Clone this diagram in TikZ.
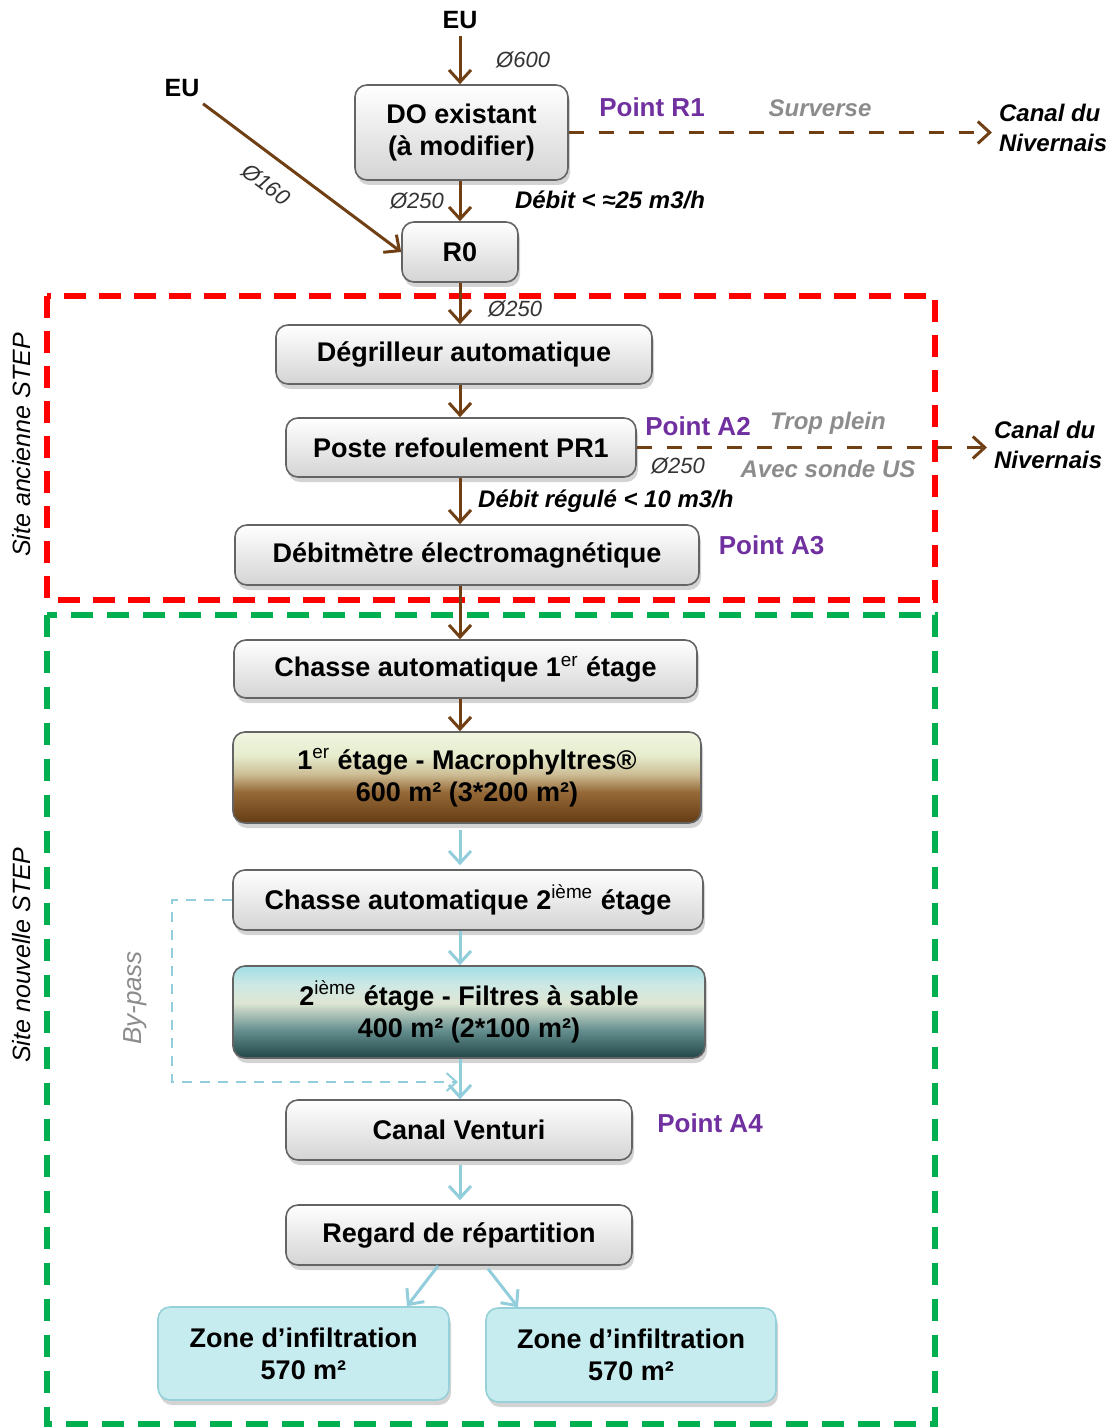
\documentclass[tikz,border=0pt]{standalone}
\usepackage{fontspec}
\setmainfont{Liberation Sans}
\usetikzlibrary{arrows.meta,positioning,shadows}
\definecolor{flowColor}{RGB}{112,63,20}
\definecolor{waterColor}{RGB}{146,205,220}
\definecolor{pointColor}{RGB}{112,48,160}
\definecolor{noteColor}{RGB}{140,140,140}
\definecolor{oldSiteColor}{RGB}{255,0,0}
\definecolor{newSiteColor}{RGB}{0,176,80}
\definecolor{boxBottom}{RGB}{212,212,212}
\definecolor{boxBorder}{RGB}{100,100,100}
\definecolor{zoneColor}{RGB}{198,236,239}
\definecolor{zoneBorder}{RGB}{150,208,216}
\definecolor{macroTop}{RGB}{240,246,225}
\definecolor{macroHigh}{RGB}{230,236,205}
\definecolor{macroMid}{RGB}{205,190,150}
\definecolor{macroLow}{RGB}{150,105,55}
\definecolor{macroBottom}{RGB}{100,60,20}
\definecolor{sandTop}{RGB}{160,222,230}
\definecolor{sandHigh}{RGB}{205,232,228}
\definecolor{sandMid}{RGB}{222,230,212}
\definecolor{sandLow}{RGB}{100,142,142}
\definecolor{sandBottom}{RGB}{35,70,72}
\pgfdeclareverticalshading{macroShade}{100bp}{color(0bp)=(macroBottom); color(25bp)=(macroBottom); color(42bp)=(macroLow); color(52bp)=(macroMid); color(62bp)=(macroHigh); color(75bp)=(macroTop); color(100bp)=(macroTop)}
\pgfdeclareverticalshading{sandShade}{100bp}{color(0bp)=(sandBottom); color(25bp)=(sandBottom); color(40bp)=(sandLow); color(55bp)=(sandMid); color(65bp)=(sandHigh); color(75bp)=(sandTop); color(100bp)=(sandTop)}
\tikzset{boxbase/.style={rounded corners=6pt, align=center, inner sep=2pt, line width=0.8pt, font=\fontsize{13.5}{16}\selectfont\bfseries, drop shadow={opacity=0.35, shadow xshift=1pt, shadow yshift=-2.5pt}}}
\tikzset{stage/.style={boxbase, draw=boxBorder, top color=white, bottom color=boxBottom}}
\tikzset{macro/.style={boxbase, draw=boxBorder, shade, shading=macroShade}}
\tikzset{sand/.style={boxbase, draw=boxBorder, shade, shading=sandShade}}
\tikzset{zone/.style={boxbase, draw=zoneBorder, fill=zoneColor}}
\tikzset{eu/.style={font=\fontsize{12.5}{15}\selectfont\bfseries}}
\tikzset{pipe/.style={font=\fontsize{11}{13}\selectfont\itshape, text=black!80}}
\tikzset{flowrate/.style={font=\fontsize{12}{15}\selectfont\bfseries\itshape}}
\tikzset{outlet/.style={flowrate, align=left, anchor=west}}
\tikzset{pointlabel/.style={font=\fontsize{13}{15}\selectfont\bfseries, text=pointColor}}
\tikzset{remark/.style={font=\fontsize{12}{14}\selectfont\bfseries\itshape, text=noteColor}}
\tikzset{sitelabel/.style={font=\fontsize{12.5}{15}\selectfont\itshape, rotate=90}}
\tikzset{oldsite/.style={draw=oldSiteColor, line width=3pt, dash pattern=on 11pt off 6.5pt}}
\tikzset{newsite/.style={draw=newSiteColor, line width=3pt, dash pattern=on 11pt off 7pt}}
\tikzstyle{flow} = [draw=flowColor, line width=1.5pt, -{Straight Barb[length=6pt,width=11pt]}]
\tikzstyle{water} = [draw=waterColor, line width=1.5pt, -{Straight Barb[length=6pt,width=11pt]}]
\tikzstyle{overflow} = [flow, dash pattern=on 7.5pt off 7.5pt]
\tikzstyle{bypass} = [draw=waterColor, line width=1pt, dash pattern=on 5pt off 4pt, -{Straight Barb[length=5pt,width=9pt]}]

\begin{document}
\begin{tikzpicture}[x=0.5pt, y=-0.5pt, node distance=1cm]
	\useasboundingbox (0,0) rectangle (1114,1428);

	% Sites
	\draw[oldsite] (47,296) rectangle (935,600);
	\draw[newsite] (47,615) rectangle (935,1424);
	\node (siteOld) [sitelabel] at (22,445) {Site ancienne STEP};
	\node (siteNew) [sitelabel] at (22,955) {Site nouvelle STEP};

	% Nodes
	\coordinate (axis) at (460,0);
	\node (euTop) [eu] at (460,20) {EU};
	\node (euLeft) [eu] at (182,88) {EU};
	\node (do) [stage, minimum width=106.5pt, minimum height=47.5pt] at (461.5,132.5) {DO existant\\(à modifier)};
	\node (r0) [stage, minimum width=58pt, minimum height=30pt] at (460,252) {R0};
	\node (degrilleur) [stage, minimum width=188pt, minimum height=29.5pt] at (464,354.5) {Dégrilleur automatique};
	\node (pr1) [stage, minimum width=175pt, minimum height=29.5pt] at (461,447.5) {Poste refoulement PR1};
	\node (debitmetre) [stage, minimum width=232pt, minimum height=30pt] at (467,555) {Débitmètre électromagnétique};
	\node (chasse1) [stage, minimum width=231.5pt, minimum height=29pt] at (465.5,669) {Chasse automatique 1\textsuperscript{\mdseries er} étage};
	\node (macro) [macro, minimum width=234pt, minimum height=45.5pt] at (467,777.5) {1\textsuperscript{\mdseries er} étage - Macrophyltres®\\600 m² (3*200 m²)};
	\node (chasse2) [stage, minimum width=235pt, minimum height=30pt] at (468,900) {Chasse automatique 2\textsuperscript{\mdseries ième} étage};
	\node (filtres) [sand, minimum width=236pt, minimum height=46pt] at (469,1012) {2\textsuperscript{\mdseries ième} étage - Filtres à sable\\400 m² (2*100 m²)};
	\node (venturi) [stage, minimum width=173pt, minimum height=30pt] at (459,1130) {Canal Venturi};
	\node (regard) [stage, minimum width=173pt, minimum height=30pt] at (459,1235) {Regard de répartition};
	\node (zoneL) [zone, minimum width=145.5pt, minimum height=46.5pt] at (303.5,1353.5) {Zone d’infiltration\\570 m²};
	\node (zoneR) [zone, minimum width=145pt, minimum height=47pt] at (631,1355) {Zone d’infiltration\\570 m²};

	\node (canalR1) [outlet] at (992,128) {Canal du\\Nivernais};
	\node (canalA2) [outlet] at (987,445) {Canal du\\Nivernais};
	\node (pointR1) [pointlabel] at (652,107) {Point R1};
	\node (surverse) [remark] at (820,108) {Surverse};
	\node (pointA2) [pointlabel] at (698,426) {Point A2};
	\node (tropPlein) [remark] at (828,423) {Trop plein};
	\node (sonde) [remark] at (828,469) {Avec sonde US};
	\node (pointA3) [pointlabel, right=6pt of debitmetre.east, yshift=5pt] {Point A3};
	\node (pointA4) [pointlabel] at (710,1123) {Point A4};
	\node (bypassLabel) [sitelabel, text=noteColor, font=\fontsize{13}{15}\selectfont\itshape] at (135,998) {By-pass};

	% Connectors
	\begin{scope}
		\draw[flow] (euTop) -- (do.north -| axis) node[pipe, midway, right=14pt] {Ø600};
		\draw[flow] (euLeft) -- (r0.west) node[pipe, pos=0.40, sloped, below=5pt] {Ø160};
		\draw[flow] (do.south -| axis) -- (r0.north -| axis) node[pipe, midway, left=4pt] {Ø250};
		\node (debitDO) [flowrate] at (610,200) {Débit < ≈25 m3/h};
		\draw[overflow] (do.east) -- (do.east -| canalR1.west);
		\draw[flow] (r0.south -| axis) -- (degrilleur.north -| axis) node[pipe, pos=0.62, right=10pt] {Ø250};
		\draw[flow] (degrilleur.south -| axis) -- (pr1.north -| axis);
		\draw[overflow] (pr1.east) -- (pr1.east -| canalA2.west);
		\node (pipeA2) [pipe] at (678,466) {Ø250};
		\draw[flow] (pr1.south -| axis) -- (debitmetre.north -| axis) node[flowrate, midway, right=5pt] {Débit régulé < 10 m3/h};
		\draw[flow] (debitmetre.south -| axis) -- (chasse1.north -| axis);
		\draw[flow] (chasse1.south -| axis) -- (macro.north -| axis);
		\draw[water, shorten <=3pt, shorten >=2pt] (macro.south -| axis) -- (chasse2.north -| axis);
		\draw[water] (chasse2.south -| axis) -- (filtres.north -| axis);
		\draw[water] (filtres.south -| axis) -- (venturi.north -| axis);
		\draw[water, shorten <=2pt, shorten >=2pt] (venturi.south -| axis) -- (regard.north -| axis);
		\draw[water] ([xshift=-10.5pt]regard.south) -- ([xshift=51.75pt]zoneL.north);
		\draw[water] ([xshift=14.5pt, yshift=-1.5pt]regard.south) -- ([xshift=-56.5pt]zoneR.north);
		\draw[bypass] (chasse2.west) -- ++(-30pt,0) |- (458,1082);
	\end{scope}
\end{tikzpicture}
\end{document}
